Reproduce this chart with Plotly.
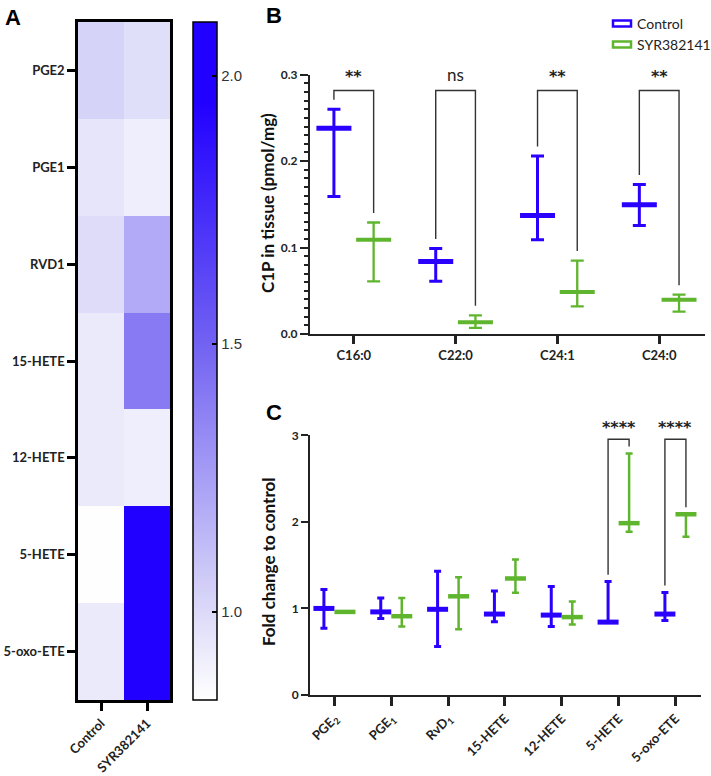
import plotly.graph_objects as go

W, H = 711, 776
def px(p):
    return p / W
def py(p):
    return 1 - p / H

BLUE = "#2a00ff"
GREEN = "#5fb52e"
FONT = "Lato"
STARFONT = "DejaVu Sans"

# ---------------- Panel A data ----------------
heat_rows = ["PGE2", "PGE1", "RVD1", "15-HETE", "12-HETE", "5-HETE", "5-oxo-ETE"]
heat_cols = ["Control", "SYR382141"]
heat_control = [1.03, 0.95, 0.99, 0.93, 0.93, 0.84, 0.93]
heat_syr = [0.98, 0.91, 1.20, 1.40, 0.91, 2.10, 2.10]

# ---------------- Panel B data ----------------
lipids_b = ["C16:0", "C22:0", "C24:1", "C24:0"]
ctrl_b_mean = [0.238, 0.084, 0.137, 0.1495]
ctrl_b_upper = [0.260, 0.099, 0.206, 0.173]
ctrl_b_lower = [0.159, 0.061, 0.109, 0.1256]
syr_b_mean = [0.109, 0.0135, 0.0486, 0.0397]
syr_b_upper = [0.129, 0.0216, 0.085, 0.0455]
syr_b_lower = [0.061, 0.007, 0.032, 0.026]
sig_b = ["**", "ns", "**", "**"]
bracket_b_top = 0.2817
ymax_b = 0.3

# ---------------- Panel C data ----------------
lipids_c = ["PGE<sub>2</sub>", "PGE<sub>1</sub>", "RvD<sub>1</sub>", "15-HETE",
            "12-HETE", "5-HETE", "5-oxo-ETE"]
ctrl_c_mean = [1.00, 0.96, 0.99, 0.935, 0.923, 0.842, 0.935]
ctrl_c_upper = [1.22, 1.12, 1.43, 1.20, 1.254, 1.31, 1.185]
ctrl_c_lower = [0.77, 0.885, 0.56, 0.846, 0.79, 0.842, 0.86]
syr_c_mean = [0.96, 0.91, 1.14, 1.346, 0.90, 1.985, 2.088]
syr_c_upper = [0.96, 1.12, 1.36, 1.565, 1.08, 2.79, 2.088]
syr_c_lower = [0.96, 0.79, 0.76, 1.18, 0.815, 1.885, 1.827]
sig_c = ["", "", "", "", "", "****", "****"]
bracket_c_top = 2.954
ymax_c = 3.0

fig = go.Figure()

# ---------------- Panel A heatmap ----------------
z = [[c, s] for c, s in zip(heat_control, heat_syr)]
zmin, zmax = 0.836, 2.1
def f(v):
    return (v - zmin) / (zmax - zmin)
cscale = [[0, "#ffffff"], [f(1.0), "#dcdaf8"], [f(1.25), "#a79ef5"],
          [f(1.5), "#7262f2"], [f(1.95), "#2200ff"], [1, "#2200ff"]]
fig.add_trace(go.Heatmap(
    z=z, x=heat_cols, y=heat_rows, xaxis="x", yaxis="y",
    zmin=zmin, zmax=zmax, colorscale=cscale, hoverinfo="skip",
    colorbar=dict(x=px(193), xanchor="left", y=py(361), yanchor="middle",
                  len=678, lenmode="pixels", thickness=24, thicknessmode="pixels",
                  outlinewidth=1.5, outlinecolor="black", xpad=0, ypad=0,
                  tickvals=[1.0, 1.5, 2.0], ticktext=["1.0", "1.5", "2.0"],
                  ticks="inside", ticklen=5, tickwidth=1.5, tickcolor="black",
                  tickfont=dict(family="Liberation Sans", size=15, color="#333")),
))

# ---------------- Panel B ----------------
off_b = 0.195
xb_c = [i - off_b for i in range(len(lipids_b))]
xb_s = [i + off_b for i in range(len(lipids_b))]

def group_trace(xs, mean, up, lo, color, xa, ya, msize, mwidth, capw, thick):
    return go.Scatter(
        x=xs, y=mean, xaxis=xa, yaxis=ya, mode="markers", showlegend=False,
        hoverinfo="skip", cliponaxis=False,
        marker=dict(symbol="line-ew", size=msize, color=color,
                    line=dict(color=color, width=mwidth)),
        error_y=dict(type="data", symmetric=False,
                     array=[u - m for u, m in zip(up, mean)],
                     arrayminus=[m - l for m, l in zip(mean, lo)],
                     color=color, thickness=thick, width=capw),
    )

fig.add_trace(group_trace(xb_c, ctrl_b_mean, ctrl_b_upper, ctrl_b_lower, BLUE,
                          "x2", "y2", 25, 5, 6.5, 3))
fig.add_trace(group_trace(xb_s, syr_b_mean, syr_b_upper, syr_b_lower, GREEN,
                          "x2", "y2", 25, 4, 6.5, 2.3))

gap_b = 0.011
for i, s in enumerate(sig_b):
    fig.add_trace(go.Scatter(
        x=[xb_c[i], xb_c[i], xb_s[i], xb_s[i]],
        y=[ctrl_b_upper[i] + gap_b, bracket_b_top, bracket_b_top, syr_b_upper[i] + gap_b],
        xaxis="x2", yaxis="y2", mode="lines", showlegend=False, hoverinfo="skip",
        line=dict(color="#333", width=1.4), cliponaxis=False))
    if s == "ns":
        fig.add_annotation(x=i, y=0.300 / ymax_b, xref="x2", yref="y2 domain", text=s,
                           showarrow=False, yanchor="middle", xanchor="center",
                           font=dict(family=FONT, size=17, color="#222"))
    else:
        fig.add_annotation(x=i, y=0.298 / ymax_b, xref="x2", yref="y2 domain", text=s,
                           showarrow=False, yanchor="middle", xanchor="center",
                           font=dict(family=STARFONT, size=16, color="#222",
                                     weight="bold"))

# ---------------- Panel C ----------------
off_c = 0.185
xc_c = [i - off_c for i in range(len(lipids_c))]
xc_s = [i + off_c for i in range(len(lipids_c))]
fig.add_trace(group_trace(xc_c, ctrl_c_mean, ctrl_c_upper, ctrl_c_lower, BLUE,
                          "x3", "y3", 15, 5, 3.5, 3))
fig.add_trace(group_trace(xc_s, syr_c_mean, syr_c_upper, syr_c_lower, GREEN,
                          "x3", "y3", 15, 4.5, 3.5, 2.5))
gap_c = 0.08
for i, s in enumerate(sig_c):
    if not s:
        continue
    fig.add_trace(go.Scatter(
        x=[xc_c[i], xc_c[i], xc_s[i], xc_s[i]],
        y=[ctrl_c_upper[i] + gap_c, bracket_c_top, bracket_c_top, syr_c_upper[i] + gap_c],
        xaxis="x3", yaxis="y3", mode="lines", showlegend=False, hoverinfo="skip",
        line=dict(color="#333", width=1.4), cliponaxis=False))
    fig.add_annotation(x=i, y=3.09 / ymax_c, xref="x3", yref="y3 domain", text=s,
                       showarrow=False, yanchor="middle", xanchor="center",
                       font=dict(family=STARFONT, size=16, color="#222", weight="bold"))

# ---------------- Layout ----------------
tickfont = dict(family=FONT, size=13, color="#222", weight="bold")
tickfont_b = dict(family=FONT, size=13, color="#222", weight="bold")
ytickfont = dict(family=FONT, size=12, color="#222", weight="bold")
fig.update_layout(
    width=W, height=H, margin=dict(l=0, r=0, t=0, b=0, autoexpand=False),
    paper_bgcolor="white", plot_bgcolor="white", showlegend=False,
    xaxis=dict(domain=[px(78), px(170)], anchor="y", showline=True, mirror=True,
               linewidth=2.5, linecolor="black", ticks="outside", ticklen=8,
               tickwidth=2.5, tickcolor="black", tickangle=-45, tickfont=tickfont,
               showgrid=False, zeroline=False, automargin=False),
    yaxis=dict(domain=[py(700), py(22)], anchor="x", autorange="reversed",
               showline=True, mirror=True, linewidth=2.5, linecolor="black",
               ticks="outside", ticklen=8, tickwidth=2.5, tickcolor="black",
               tickfont=tickfont, showgrid=False, zeroline=False, automargin=False),
    xaxis2=dict(domain=[px(310), px(705)], anchor="y2", range=[-0.43, 3.45],
                tickvals=list(range(len(lipids_b))), ticktext=lipids_b,
                showline=True, linewidth=2, linecolor="#222", ticks="outside",
                ticklen=8, tickwidth=2.5, tickcolor="#222", tickfont=tickfont_b,
                showgrid=False, zeroline=False, automargin=False),
    yaxis2=dict(domain=[py(334), py(74.7)], anchor="x2", range=[0, ymax_b],
                tickvals=[0, 0.1, 0.2, 0.3], ticktext=["0.0", "0.1", "0.2", "0.3"],
                showline=True, linewidth=2, linecolor="#222", ticks="outside",
                ticklen=8, tickwidth=2, tickcolor="#222",
                minor=dict(dtick=0.01, ticks="outside", ticklen=4, tickwidth=1.5,
                           tickcolor="#222", showgrid=False),
                tickfont=ytickfont, showgrid=False, zeroline=False, automargin=False),
    xaxis3=dict(domain=[px(310), px(701)], anchor="y3", range=[-0.43, 6.45],
                tickvals=list(range(len(lipids_c))), ticktext=lipids_c,
                showline=True, linewidth=2, linecolor="#222", ticks="outside",
                ticklen=9, tickwidth=2.5, tickcolor="#222", tickangle=-45,
                tickfont=tickfont, showgrid=False, zeroline=False, automargin=False),
    yaxis3=dict(domain=[py(695), py(435.3)], anchor="x3", range=[0, ymax_c],
                tickvals=[0, 1, 2, 3], showline=True, linewidth=2, linecolor="#222",
                ticks="outside", ticklen=7, tickwidth=2, tickcolor="#222",
                tickfont=ytickfont, showgrid=False, zeroline=False, automargin=False),
)

# Axis titles
fig.add_annotation(x=px(268), y=py(203), xref="paper", yref="paper",
                   xanchor="center", yanchor="middle",
                   text="C1P in tissue (pmol/mg)", textangle=-90, showarrow=False,
                   font=dict(family=FONT, size=17, color="#111", weight="bold"))
fig.add_annotation(x=px(268), y=py(562), xref="paper", yref="paper",
                   xanchor="center", yanchor="middle",
                   text="Fold change to control", textangle=-90, showarrow=False,
                   font=dict(family=FONT, size=17, color="#111", weight="bold"))

# Panel letters
for letter, x0, y0 in [("A", 3, 3), ("B", 264, 1), ("C", 264, 398)]:
    fig.add_annotation(x=px(x0), y=py(y0), xref="paper", yref="paper", text=letter,
                       showarrow=False, xanchor="left", yanchor="top",
                       font=dict(family="Liberation Sans", size=22, color="black",
                                 weight="bold"))

# Legend
legend_items = [("Control", BLUE, 23.5), ("SYR382141", GREEN, 44.5)]
for name, col, yc in legend_items:
    fig.add_shape(type="rect", xref="paper", yref="paper",
                  x0=px(613), x1=px(631), y0=py(yc + 3), y1=py(yc - 3),
                  line=dict(color=col, width=2.5), fillcolor="white")
    fig.add_annotation(x=px(635), y=py(yc), xref="paper", yref="paper", text=name,
                       showarrow=False, xanchor="left", yanchor="middle",
                       font=dict(family=FONT, size=14, color="#222"))

fig.write_html("out.html", config={"displayModeBar": False},
               post_script="document.body.style.margin='0';"
                           "document.body.style.overflow='hidden';")
